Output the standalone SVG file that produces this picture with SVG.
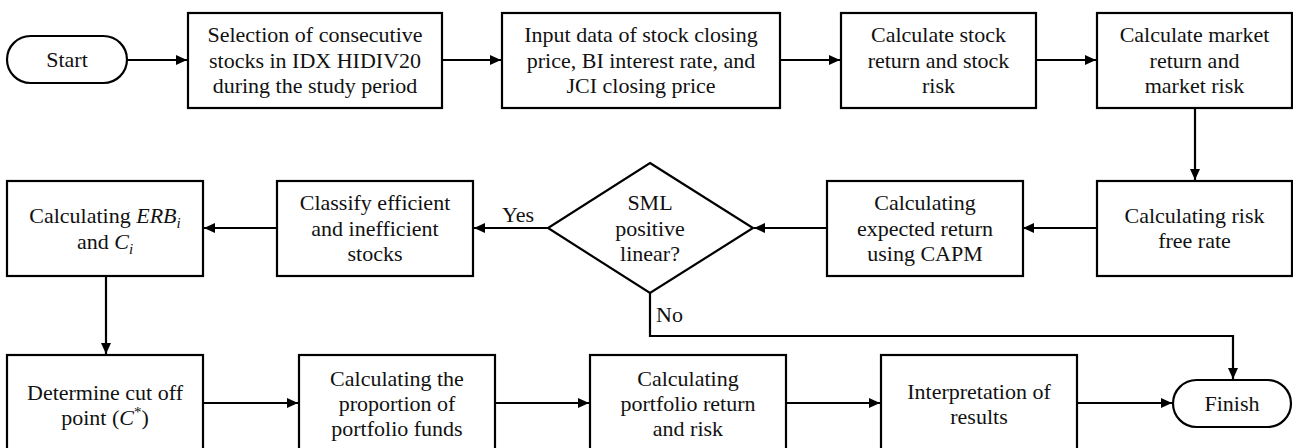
<svg xmlns="http://www.w3.org/2000/svg" width="1293" height="448" viewBox="0 0 1293 448">
<defs>
<style>
.n{fill:#fff;stroke:#000;stroke-width:2.2}
.t{font-family:"Liberation Serif","Times New Roman",serif;font-size:22px;fill:#111;text-anchor:middle}
.l{font-family:"Liberation Serif","Times New Roman",serif;font-size:22px;fill:#111}
.c{fill:none;stroke:#000;stroke-width:2.2}
.m{font-style:italic}
</style>
<marker id="ah" markerWidth="12" markerHeight="10" refX="11" refY="5" orient="auto" markerUnits="userSpaceOnUse">
<path d="M0,0 L11,5 L0,10 Z" fill="#000"/>
</marker>
</defs>
<rect width="1293" height="448" fill="#fff"/>
<g id="connectors">
<path class="c" d="M127,60 H187" marker-end="url(#ah)"/>
<path class="c" d="M442,60 H501" marker-end="url(#ah)"/>
<path class="c" d="M780,60 H840" marker-end="url(#ah)"/>
<path class="c" d="M1036,60 H1096" marker-end="url(#ah)"/>
<path class="c" d="M1195,108 V180" marker-end="url(#ah)"/>
<path class="c" d="M1097,228 H1023" marker-end="url(#ah)"/>
<path class="c" d="M827,228 H754" marker-end="url(#ah)"/>
<path class="c" d="M548,228 H474" marker-end="url(#ah)"/>
<path class="c" d="M277,228 H204" marker-end="url(#ah)"/>
<path class="c" d="M106,276 V354" marker-end="url(#ah)"/>
<path class="c" d="M203,403 H298" marker-end="url(#ah)"/>
<path class="c" d="M495,403 H589" marker-end="url(#ah)"/>
<path class="c" d="M786,403 H880" marker-end="url(#ah)"/>
<path class="c" d="M1077,403 H1172" marker-end="url(#ah)"/>
<path class="c" d="M650,293 V336 H1233 V379" marker-end="url(#ah)"/>
<text class="l" x="502" y="222">Yes</text>
<text class="l" x="656" y="322">No</text>
</g>
<g id="start">
<rect class="n" x="7" y="36" width="120" height="47" rx="23.5"/>
<text class="t" x="67" y="67">Start</text>
</g>
<g id="selection">
<rect class="n" x="188" y="13" width="254" height="95"/>
<text class="t" x="315" y="42">Selection of consecutive</text>
<text class="t" x="315" y="67.5">stocks in IDX HIDIV20</text>
<text class="t" x="315" y="93">during the study period</text>
</g>
<g id="input">
<rect class="n" x="502" y="13" width="278" height="95"/>
<text class="t" x="641" y="42">Input data of stock closing</text>
<text class="t" x="641" y="67.5">price, BI interest rate, and</text>
<text class="t" x="641" y="93">JCI closing price</text>
</g>
<g id="stockreturn">
<rect class="n" x="841" y="13" width="195" height="95"/>
<text class="t" x="938.5" y="42">Calculate stock</text>
<text class="t" x="938.5" y="67.5">return and stock</text>
<text class="t" x="938.5" y="93">risk</text>
</g>
<g id="marketreturn">
<rect class="n" x="1097" y="13" width="195" height="95"/>
<text class="t" x="1194.5" y="42">Calculate market</text>
<text class="t" x="1194.5" y="67.5">return and</text>
<text class="t" x="1194.5" y="93">market risk</text>
</g>
<g id="riskfree">
<rect class="n" x="1097" y="181" width="195" height="95"/>
<text class="t" x="1194.5" y="222.5">Calculating risk</text>
<text class="t" x="1194.5" y="248">free rate</text>
</g>
<g id="capm">
<rect class="n" x="827" y="181" width="196" height="95"/>
<text class="t" x="925" y="210">Calculating</text>
<text class="t" x="925" y="235.5">expected return</text>
<text class="t" x="925" y="261">using CAPM</text>
</g>
<g id="decision">
<polygon class="n" points="650,163 753,228 650,293 548,228"/>
<text class="t" x="650" y="210">SML</text>
<text class="t" x="650" y="235.5">positive</text>
<text class="t" x="650" y="261">linear?</text>
</g>
<g id="classify">
<rect class="n" x="277" y="181" width="196" height="95"/>
<text class="t" x="375" y="210">Classify efficient</text>
<text class="t" x="375" y="235.5">and inefficient</text>
<text class="t" x="375" y="261">stocks</text>
</g>
<g id="erb">
<rect class="n" x="7" y="181" width="196" height="95"/>
<text class="t" x="105" y="223">Calculating <tspan class="m">ERB</tspan><tspan class="m" font-size="15" dy="5">i</tspan></text>
<text class="t" x="105" y="249">and <tspan class="m">C</tspan><tspan class="m" font-size="15" dy="5">i</tspan></text>
</g>
<g id="cutoff">
<rect class="n" x="7" y="355" width="196" height="98"/>
<text class="t" x="105" y="400">Determine cut off</text>
<text class="t" x="105" y="425">point (<tspan class="m">C</tspan><tspan font-size="15" dy="-8">*</tspan><tspan dy="8">)</tspan></text>
</g>
<g id="proportion">
<rect class="n" x="299" y="355" width="196" height="98"/>
<text class="t" x="397" y="386">Calculating the</text>
<text class="t" x="397" y="411">proportion of</text>
<text class="t" x="397" y="436">portfolio funds</text>
</g>
<g id="portfolio">
<rect class="n" x="590" y="355" width="196" height="98"/>
<text class="t" x="688" y="386">Calculating</text>
<text class="t" x="688" y="411">portfolio return</text>
<text class="t" x="688" y="436">and risk</text>
</g>
<g id="interpretation">
<rect class="n" x="881" y="355" width="196" height="98"/>
<text class="t" x="979" y="399">Interpretation of</text>
<text class="t" x="979" y="424">results</text>
</g>
<g id="finish">
<rect class="n" x="1173" y="380" width="118" height="47" rx="23.5"/>
<text class="t" x="1232" y="411">Finish</text>
</g>
</svg>
